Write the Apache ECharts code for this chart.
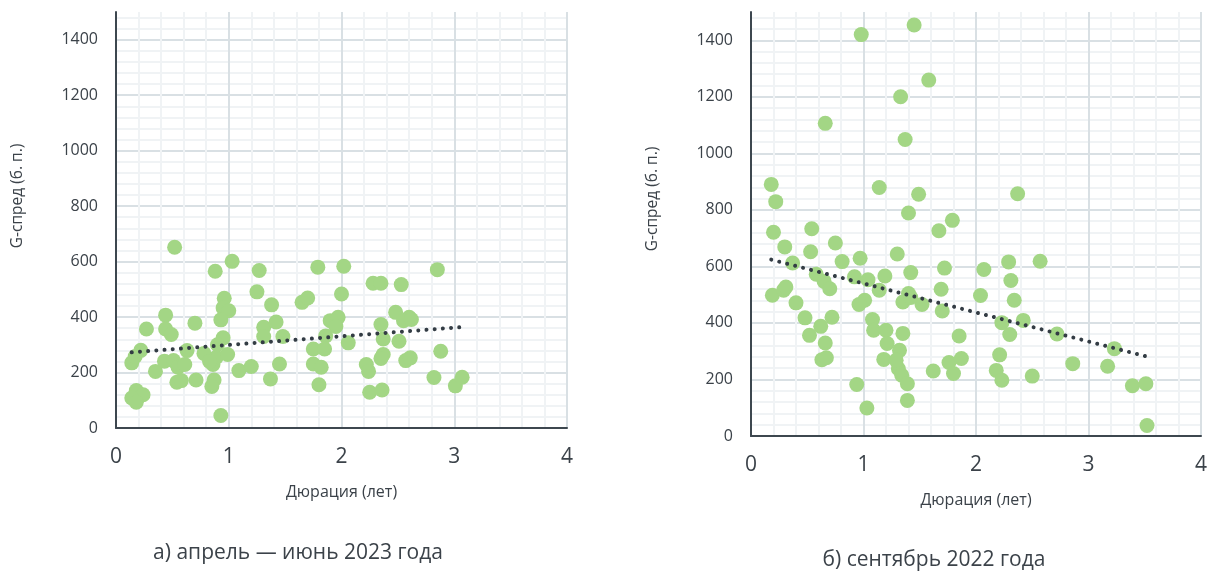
<!DOCTYPE html>
<html lang="ru">
<head>
<meta charset="utf-8">
<title>G-спред и дюрация</title>
<script src="https://cdn.jsdelivr.net/npm/echarts@6/dist/echarts.min.js"></script>
<style>
  html, body {margin: 0; padding: 0; background: #fff;}
  #chart {width: 1210px; height: 571px;}
</style>
</head>
<body>
<div id="chart"></div>
<script>
// [дюрация, G-спред]
var pointsApr2023 = [
  [0.52, 652], [1.03, 601], [0.88, 565], [1.27, 568], [1.79, 580], [2.02, 583],
  [1.25, 491], [0.96, 468], [1.38, 444], [1.65, 453], [1.70, 469], [2.00, 483],
  [0.95, 433], [1.00, 423], [0.93, 390], [0.44, 407], [0.27, 357], [0.44, 357],
  [0.49, 337], [0.70, 378], [1.31, 363], [1.42, 382], [1.48, 330], [1.31, 330],
  [1.90, 387], [1.97, 399], [1.95, 366], [1.86, 332], [2.06, 307], [0.95, 325],
  [0.14, 235], [0.17, 258], [0.22, 280], [0.35, 204], [0.43, 241], [0.51, 243],
  [0.55, 219], [0.61, 229], [0.54, 165], [0.58, 171], [0.71, 173], [0.63, 279],
  [0.78, 269], [0.86, 229], [0.89, 255], [0.99, 265], [0.87, 173], [0.85, 150],
  [0.93, 45], [1.09, 207], [1.20, 222], [1.37, 177], [1.45, 231], [1.75, 285],
  [1.85, 285], [1.75, 231], [1.82, 219], [1.80, 156], [0.18, 135], [0.24, 120],
  [0.14, 108], [0.18, 93], [2.28, 522], [2.35, 522], [2.53, 517], [2.85, 571],
  [2.48, 417], [2.60, 399], [2.55, 387], [2.62, 391], [2.35, 373], [2.37, 321],
  [2.51, 313], [2.37, 265], [2.35, 251], [2.57, 243], [2.61, 253], [2.22, 229],
  [2.24, 204], [2.88, 277], [2.82, 182], [3.01, 152], [3.07, 183], [2.25, 129],
  [2.36, 137], [0.90, 300], [0.83, 240]
];
var trendApr2023 = [[0.14, 273], [3.07, 364]];

var pointsSep2022 = [
  [0.98, 1420], [1.45, 1454], [1.58, 1259], [1.33, 1200], [0.66, 1106], [1.37, 1049],
  [0.18, 890], [0.22, 829], [1.14, 879], [1.49, 855], [2.37, 857], [1.40, 789],
  [1.79, 763], [1.67, 726], [0.20, 721], [0.54, 733], [0.75, 683], [0.30, 669],
  [0.53, 652], [1.30, 644], [0.97, 629], [0.81, 617], [0.37, 612], [1.72, 594],
  [1.42, 578], [1.19, 566], [0.92, 563], [1.04, 553], [0.58, 572], [0.65, 547],
  [0.70, 521], [0.19, 498], [0.29, 516], [0.31, 527], [1.14, 516], [1.69, 519],
  [1.40, 504], [1.35, 474], [1.01, 480], [0.96, 465], [1.52, 465], [1.70, 442],
  [0.40, 471], [0.48, 418], [0.72, 420], [1.08, 412], [1.09, 374], [1.20, 374],
  [1.35, 363], [0.62, 388], [0.52, 356], [0.66, 329], [1.21, 327], [1.85, 354],
  [1.32, 303], [0.63, 270], [0.67, 277], [1.18, 271], [1.31, 238], [1.34, 215],
  [1.39, 185], [1.62, 230], [1.76, 260], [1.87, 274], [1.80, 221], [0.94, 182],
  [1.39, 126], [1.03, 99], [2.07, 589], [2.29, 616], [2.57, 618], [2.31, 550],
  [2.04, 497], [2.34, 480], [2.23, 401], [2.42, 409], [2.30, 359], [2.72, 361],
  [3.23, 309], [2.21, 287], [2.18, 232], [2.23, 197], [2.50, 212], [2.86, 256],
  [3.17, 247], [3.39, 178], [3.51, 185], [3.52, 37], [1.29, 268], [1.42, 490]
];
var trendSep2022 = [[0.18, 624], [3.51, 282]];

var xRange = [0, 4], xStep = 1;
var yRange = [0, 1500], yStep = 200, yMinorStep = 40;

var captions = ['а) апрель — июнь 2023 года', 'б) сентябрь 2022 года'];
var xName = 'Дюрация (лет)';
var yName = 'G-спред (б. п.)';

var font = '"Open Sans", "Noto Sans", sans-serif';
var textColor = '#3b4249';
var axisColor = '#3d474f';
var majorColor = '#d9e0e4';
var minorColor = '#f0f3f5';
var dotColor = '#a3d685';

var grids = [
  {left: 116, top: 12, width: 451, height: 416},
  {left: 751, top: 12, width: 452, height: 424}
];

function xAxisFor(g) {
  return {
    type: 'value', gridIndex: g, min: xRange[0], max: xRange[1], interval: xStep,
    name: xName, nameLocation: 'middle', nameGap: 56,
    nameTextStyle: {fontSize: 16, color: textColor, fontFamily: font},
    axisLine: {show: true, onZero: false, lineStyle: {color: axisColor, width: 2}},
    axisTick: {show: false},
    axisLabel: {fontSize: 21, color: textColor, margin: 19, fontFamily: font},
    splitLine: {show: true, lineStyle: {color: majorColor, width: 2}},
    minorTick: {show: false, splitNumber: 5},
    minorSplitLine: {show: true, lineStyle: {color: minorColor, width: 2}}
  };
}
function yMinorAxisFor(g) {
  return {
    type: 'value', gridIndex: g, position: 'left', min: yRange[0], max: yRange[1],
    interval: yMinorStep,
    axisLine: {show: false}, axisTick: {show: false}, axisLabel: {show: false},
    splitLine: {show: true, showMaxLine: false, lineStyle: {color: minorColor, width: 2}}
  };
}
function yAxisFor(g) {
  return {
    type: 'value', gridIndex: g, position: 'left', min: yRange[0], max: yRange[1],
    interval: yStep,
    axisLine: {show: true, onZero: false, lineStyle: {color: axisColor, width: 2}},
    axisTick: {show: false},
    axisLabel: {fontSize: 16, color: textColor, margin: 18, fontFamily: font,
                showMaxLabel: false, formatter: function (v) { return String(v); }},
    splitLine: {show: true, showMaxLine: false, lineStyle: {color: majorColor, width: 2}}
  };
}

function scatterFor(g, data) {
  return {
    type: 'scatter', xAxisIndex: g, yAxisIndex: g * 2 + 1, data: data,
    symbolSize: 15, itemStyle: {color: dotColor, opacity: 1}, z: 2
  };
}
function trendFor(g, data) {
  return {
    type: 'line', xAxisIndex: g, yAxisIndex: g * 2 + 1, data: data,
    symbol: 'none', silent: true, z: 3,
    lineStyle: {color: '#333c44', width: 4, type: [0.01, 8.2], cap: 'round'}
  };
}

var chart = echarts.init(document.getElementById('chart'));
chart.setOption({
  animation: false,
  backgroundColor: '#fff',
  grid: grids,
  xAxis: [xAxisFor(0), xAxisFor(1)],
  yAxis: [yMinorAxisFor(0), yAxisFor(0), yMinorAxisFor(1), yAxisFor(1)],
  series: [
    scatterFor(0, pointsApr2023), trendFor(0, trendApr2023),
    scatterFor(1, pointsSep2022), trendFor(1, trendSep2022)
  ],
  graphic: [
    {type: 'text', x: 18, y: 196, rotation: Math.PI / 2,
     style: {text: yName, font: '15.5px ' + font, fill: textColor, align: 'center', verticalAlign: 'middle'}},
    {type: 'text', x: 653, y: 199, rotation: Math.PI / 2,
     style: {text: yName, font: '15.5px ' + font, fill: textColor, align: 'center', verticalAlign: 'middle'}},
    {type: 'text', x: 298, y: 553,
     style: {text: captions[0], font: '21px ' + font, fill: textColor, align: 'center', verticalAlign: 'middle'}},
    {type: 'text', x: 934, y: 560,
     style: {text: captions[1], font: '21px ' + font, fill: textColor, align: 'center', verticalAlign: 'middle'}}
  ]
});
</script>
</body>
</html>
